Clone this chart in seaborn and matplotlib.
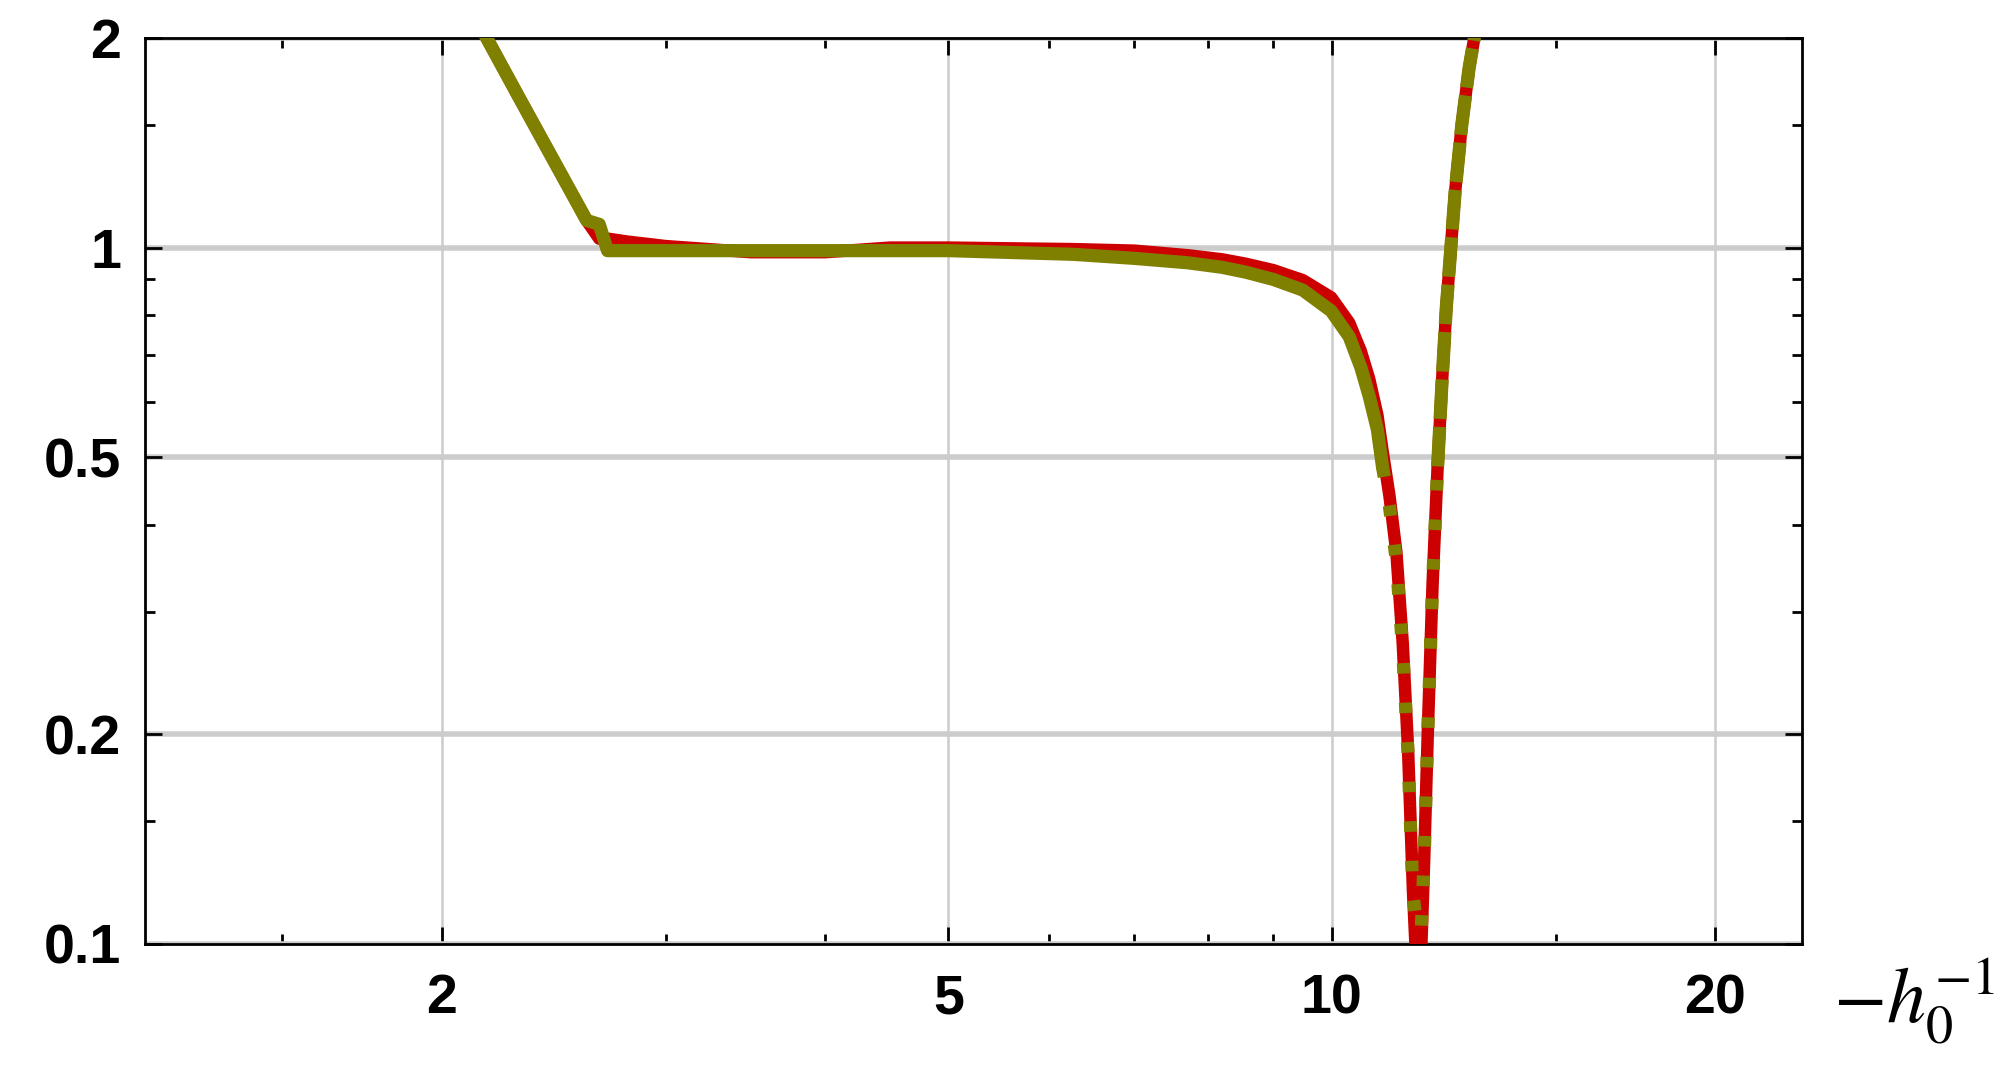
import pandas as pd
import matplotlib
matplotlib.use("Agg")
import matplotlib.pyplot as plt
from matplotlib.ticker import FixedLocator, NullFormatter
import seaborn as sns

# -----------------------------
# Data
# -----------------------------
h_inv = [2.10, 2.17, 2.30, 2.45, 2.60, 2.66, 2.70, 2.80, 3.00, 3.50,
         4.00, 4.50, 5.00, 6.27, 7.00, 7.71, 8.20, 8.56, 9.00, 9.49,
         9.99, 10.32, 10.54, 10.70, 10.86, 10.96, 11.10, 11.24, 11.37, 11.48,
         11.58, 11.68, 11.76, 11.82, 11.90, 12.00, 12.11, 12.20, 12.30, 12.50,
         12.65, 12.82, 12.94, 13.10]

red_vals = [2.23, 2.00, 1.645, 1.333, 1.094, 1.03, 1.03, 1.02, 1.005, 0.985,
            0.985, 1.00, 1.00, 0.995, 0.99, 0.975, 0.962, 0.948, 0.928, 0.898,
            0.848, 0.78, 0.71, 0.648, 0.575, 0.512, 0.44, 0.365, 0.27, 0.19,
            0.12, 0.085, 0.10, 0.133, 0.205, 0.329, 0.485, 0.63, 0.818, 1.205,
            1.50, 1.813, 2.00, 2.30]

olive_vals = [2.23, 2.00, 1.645, 1.333, 1.094, 1.08, 0.99, 0.99, 0.99, 0.99,
              0.99, 0.99, 0.99, 0.978, 0.965, 0.951, 0.937, 0.922, 0.900, 0.869,
              0.811, 0.745, 0.673, 0.612, 0.548, 0.485, 0.425, 0.354, 0.263, 0.187,
              0.118, 0.104, 0.106, 0.133, 0.205, 0.329, 0.485, 0.63, 0.818, 1.205,
              1.50, 1.813, 2.00, 2.30]

x_major = [2, 5, 10, 20]
x_minor = [1.5, 3, 4, 6, 7, 8, 9, 15]
y_major = [0.1, 0.2, 0.5, 1, 2]
y_labels = ["0.1", "0.2", "0.5", "1", "2"]
y_minor = [0.15, 0.3, 0.4, 0.6, 0.7, 0.8, 0.9, 1.5]

df = pd.DataFrame({"x": h_inv, "red": red_vals, "olive": olive_vals})

# -----------------------------
# Style
# -----------------------------
sns.set_style("white")
plt.rcParams["font.family"] = ["Liberation Sans", "DejaVu Sans"]
plt.rcParams["mathtext.fontset"] = "stix"

RED = "#cc0000"
OLIVE = "#808000"
GRID = "#cccccc"

fig = plt.figure(figsize=(20.08, 10.70), dpi=100)
ax = fig.add_axes([0.0722, 0.1178, 0.8252, 0.8467])

# -----------------------------
# Curves
# -----------------------------
sns.lineplot(data=df, x="x", y="red", ax=ax, color=RED, lw=9,
             estimator=None, solid_capstyle="butt", zorder=3)

left = df[df["x"] <= 10.96]
dip = df[(df["x"] >= 10.96) & (df["x"] <= 12.11)]
right = df[df["x"] >= 12.11]

sns.lineplot(data=left, x="x", y="olive", ax=ax, color=OLIVE, lw=9.5,
             estimator=None, zorder=4)
sns.lineplot(data=dip, x="x", y="olive", ax=ax, color=OLIVE, lw=9.5,
             estimator=None, linestyle=(0, (0.8, 2.2)),
             dash_capstyle="butt", zorder=4)
sns.lineplot(data=right, x="x", y="olive", ax=ax, color=OLIVE, lw=9.5,
             estimator=None, linestyle=(0, (3, 0.6)),
             dash_capstyle="butt", zorder=4)

# -----------------------------
# Axes
# -----------------------------
ax.set_xscale("log")
ax.set_yscale("log")
ax.set_xlim(1.17, 23.4)
ax.set_ylim(0.1, 2)

ax.xaxis.set_major_locator(FixedLocator(x_major))
ax.xaxis.set_minor_locator(FixedLocator(x_minor))
ax.set_xticklabels([str(v) for v in x_major])
ax.xaxis.set_minor_formatter(NullFormatter())

ax.yaxis.set_major_locator(FixedLocator(y_major))
ax.yaxis.set_minor_locator(FixedLocator(y_minor))
ax.set_yticklabels(y_labels)
ax.yaxis.set_minor_formatter(NullFormatter())

ax.xaxis.grid(True, which="major", color=GRID, lw=1.8, zorder=0)
ax.yaxis.grid(True, which="major", color=GRID, lw=4, zorder=0)
ax.set_axisbelow(True)

for side in ["left", "right", "top", "bottom"]:
    ax.spines[side].set_visible(True)
    ax.spines[side].set_color("black")
    ax.spines[side].set_linewidth(2)

ax.tick_params(which="both", direction="in", top=True, right=True,
               bottom=True, left=True, color="black", width=2,
               labelcolor="black")
ax.tick_params(which="major", length=12)
ax.tick_params(which="minor", length=7.2)
ax.tick_params(axis="x", which="major", pad=21, labelsize=40)
ax.tick_params(axis="y", which="major", pad=17, labelsize=40)
for lab in ax.get_xticklabels() + ax.get_yticklabels():
    lab.set_fontweight("bold")

ax.set_xlabel("")
ax.set_ylabel("")
ax.text(1.019, -0.087, r"$-h_0^{-1}$", transform=ax.transAxes,
        ha="left", va="baseline", fontsize=56, color="black")

plt.savefig("out.png", dpi=100)
